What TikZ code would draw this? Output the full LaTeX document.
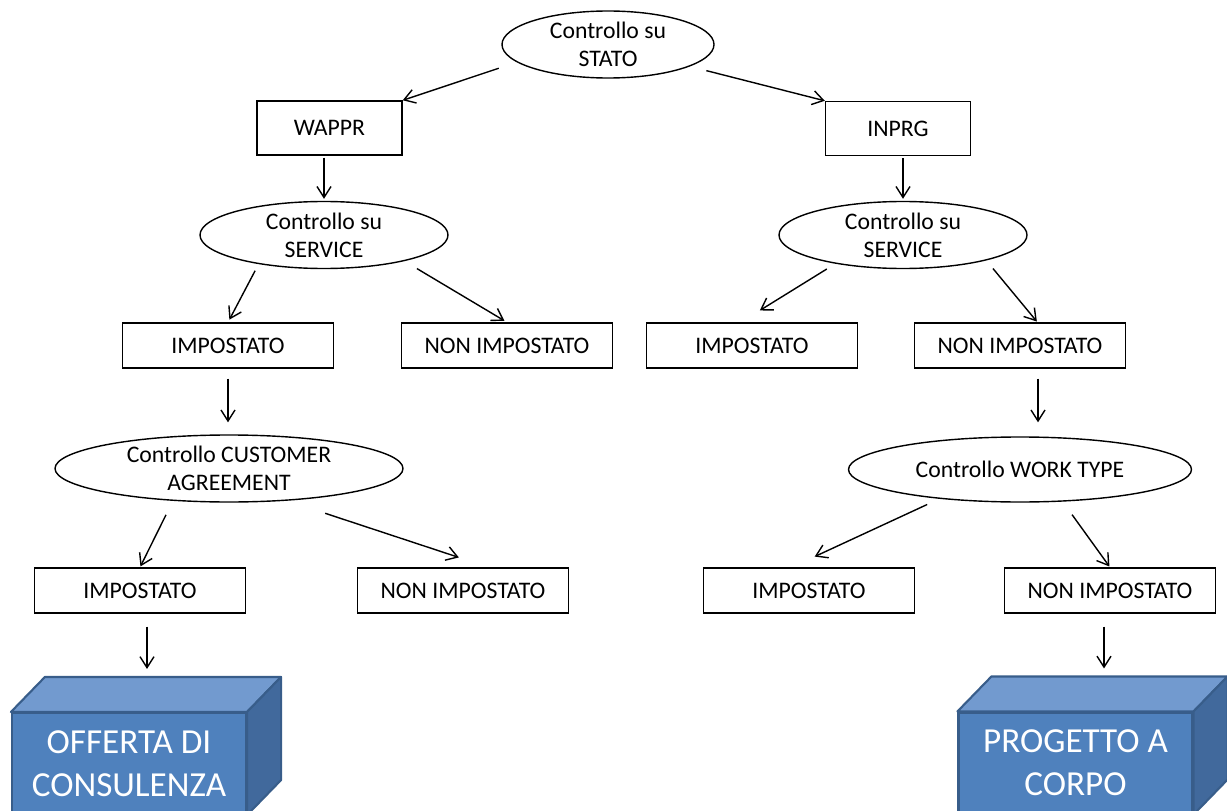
\documentclass[tikz,border=0pt]{standalone}
\usepackage{fontspec}
\setmainfont{Carlito}
\usetikzlibrary{shapes.geometric,arrows.meta}
\definecolor{cubefront}{HTML}{4F81BD}
\definecolor{cubetop}{HTML}{729ACF}
\definecolor{cubeside}{HTML}{41699C}
\definecolor{cubeline}{HTML}{385D8A}
\begin{document}
\begin{tikzpicture}[x=0.2mm,y=-0.2mm,
  every node/.style={font=\fontsize{13.5}{16}\selectfont},
  box/.style={draw,line width=0.8pt,inner sep=0pt,minimum width=42.2mm,minimum height=9mm},
  statebox/.style={box,minimum width=29mm,minimum height=10.8mm},
  checkell/.style={ellipse,draw,line width=0.8pt,inner xsep=0pt,inner ysep=-2mm,align=center,minimum height=13.4mm},
  arr/.style={-{Straight Barb[length=2.2mm,width=2.8mm]},line width=0.8pt},
  cubeface/.style={fill=cubefront,draw=cubeline,line width=1.2pt,inner sep=0pt,minimum width=46.8mm,minimum height=20.2mm,align=center,text=white,font=\fontsize{20}{24.4}\selectfont},
  cubetopface/.style={fill=cubetop,draw=cubeline,line width=1.2pt,line join=round},
  cubesideface/.style={fill=cubeside,draw=cubeline,line width=1.2pt,line join=round}]
\useasboundingbox (0,0) rectangle (1227,811);
\clip (0,0) rectangle (1227,811);
\node[checkell,minimum width=42.4mm] (stato) at (608,44.5) {Controllo su\\STATO};
\node[statebox] (wappr) at (329.5,128) {WAPPR};
\node[statebox] (inprg) at (898,128.5) {INPRG};
\node[checkell,minimum width=49.6mm] (serviceL) at (324,235) {Controllo su\\SERVICE};
\node[checkell,minimum width=49.6mm] (serviceR) at (903,235) {Controllo su\\SERVICE};
\node[box] (impL) at (228,345.5) {IMPOSTATO};
\node[box] (nonL) at (507,345.5) {NON IMPOSTATO};
\node[box] (impR) at (752,345.5) {IMPOSTATO};
\node[box] (nonR) at (1020,345.5) {NON IMPOSTATO};
\node[checkell,minimum width=69.6mm] (customer) at (229,468.5) {Controllo CUSTOMER\\AGREEMENT};
\node[checkell,minimum width=68.6mm,minimum height=13mm] (worktype) at (1020,469.5) {Controllo WORK TYPE};
\node[box] (impCust) at (140,590.5) {IMPOSTATO};
\node[box] (nonCust) at (463,590.5) {NON IMPOSTATO};
\node[box] (impWork) at (809,590.5) {IMPOSTATO};
\node[box] (nonWork) at (1110,590.5) {NON IMPOSTATO};
% the two result blocks
\node[cubeface] (offerta) at (129,763.5) {OFFERTA DI\\CONSULENZA};
\draw[cubetopface] (offerta.north west) -- ++(34,-35) -- ([shift={(34,-35)}]offerta.north east) -- (offerta.north east) -- cycle;
\draw[cubesideface] (offerta.north east) -- ++(34,-35) -- ([shift={(34,-35)}]offerta.south east) -- (offerta.south east) -- cycle;
\coordinate (offertaTop) at ([yshift=7mm]offerta.north);
\node[cubeface] (progetto) at (1075.5,763) {PROGETTO A\\CORPO};
\draw[cubetopface] (progetto.north west) -- ++(34,-35) -- ([shift={(34,-35)}]progetto.north east) -- (progetto.north east) -- cycle;
\draw[cubesideface] (progetto.north east) -- ++(34,-35) -- ([shift={(34,-35)}]progetto.south east) -- (progetto.south east) -- cycle;
\coordinate (progettoTop) at ([yshift=7mm]progetto.north);
% connectors
\draw[arr,shorten <=3.8mm] (stato.191) -- (wappr.north east);
\draw[arr,shorten <=3.4mm] (stato.345) -- (inprg.north west);
\draw[arr,shorten <=0.4mm,shorten >=0.4mm] (serviceL.north |- wappr.south) -- (serviceL.north);
\draw[arr,shorten <=0.4mm,shorten >=0.4mm] (serviceR.north |- inprg.south) -- (serviceR.north);
\draw[arr,shorten <=1.5mm,shorten >=0.6mm] (serviceL.204) -- (impL.north);
\draw[arr,shorten <=2.9mm,shorten >=0.6mm] (serviceL.342) -- (nonL.north);
\draw[arr,shorten <=2mm,shorten >=4.5mm] (serviceR.203) -- (impR.116);
\draw[arr,shorten <=2.1mm,shorten >=0.2mm] (serviceR.343) -- (nonR.53);
\draw[arr,shorten <=2mm,shorten >=2.4mm] (impL.south) -- (impL.south |- customer.north);
\draw[arr,shorten <=2mm,shorten >=2.8mm] ([xshift=3.6mm]nonR.south) -- ([xshift=3.6mm]nonR.south |- worktype.north);
\draw[arr,shorten <=3.1mm,shorten >=0.2mm] (customer.210) -- (impCust.north);
\draw[arr,shorten <=8mm,shorten >=6.3mm] (customer.331) -- (nonCust.42);
\draw[arr,shorten <=2.7mm,shorten >=5.1mm] (worktype.200) -- (impWork.127);
\draw[arr,shorten <=3.2mm,shorten >=0.2mm] (worktype.323) -- (nonWork.north);
\draw[arr,shorten <=2.6mm,shorten >=1.6mm] ([xshift=1.4mm]impCust.south) -- ([xshift=1.4mm]impCust.south |- offertaTop);
\draw[arr,shorten <=2.6mm,shorten >=1.6mm] ([xshift=-1.2mm]nonWork.south) -- ([xshift=-1.2mm]nonWork.south |- progettoTop);
\end{tikzpicture}
\end{document}
